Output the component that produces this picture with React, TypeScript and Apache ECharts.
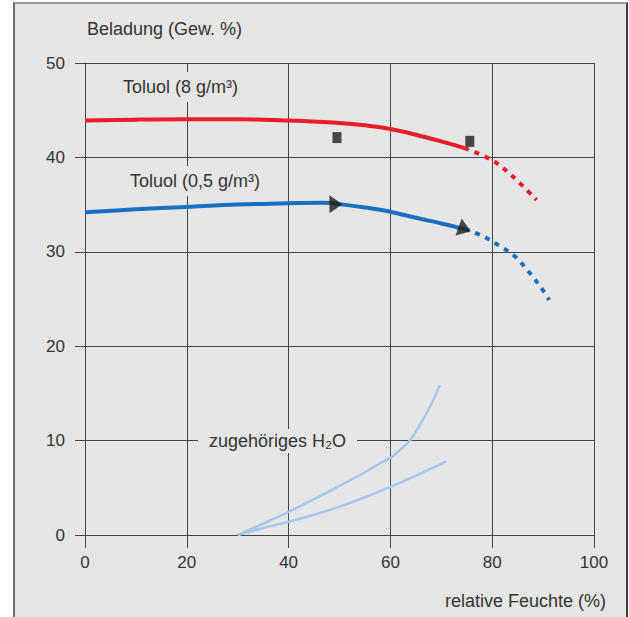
import React, { useEffect, useRef } from "react";
import * as echarts from "echarts";

const xTicks = [0, 20, 40, 60, 80, 100];
const yTicks = [0, 10, 20, 30, 40, 50];

const toluol8Solid: number[][] = [
  [0, 43.9], [10, 44.0], [20, 44.05], [30, 44.05], [40, 43.9], [50, 43.65],
  [55, 43.4], [60, 43.0], [65, 42.4], [70, 41.7], [74.5, 41.0],
];
const toluol8Dotted: number[][] = [
  [74.5, 41.0], [80, 39.7], [84, 38.0], [88.7, 35.5],
];
const toluol05Solid: number[][] = [
  [0, 34.2], [10, 34.5], [20, 34.75], [30, 35.0], [40, 35.15], [47, 35.2],
  [50, 35.05], [55, 34.7], [60, 34.25], [65, 33.6], [70, 33.0], [74.6, 32.4],
];
const toluol05Dotted: number[][] = [
  [74.6, 32.4], [78, 31.7], [81.4, 30.65], [84.5, 29.5], [87, 28.0], [89.5, 26.3], [91.2, 24.9],
];
const h2oUpper: number[][] = [
  [30, 0], [35, 1.2], [40, 2.45], [45, 3.8], [50, 5.2], [55, 6.65], [58, 7.6], [60.2, 8.25],
  [62, 9.05], [63.9, 10.05], [65.5, 11.4], [67.1, 12.9], [68.5, 14.4], [69.7, 15.9],
];
const h2oLower: number[][] = [
  [30, 0], [35, 0.75], [40, 1.4], [45, 2.15], [50, 3.0], [55, 4.0], [60, 5.1], [65.5, 6.4], [71, 7.8],
];
const measuredSquares: number[][] = [
  [49.5, 42.1], [75.6, 41.7],
];
const arrowPoints: number[][] = [
  [49.3, 35.05], [74.6, 32.4],
];
const arrowRotations = [-90, -110];

const labels = {
  yName: "Beladung (Gew. %)",
  xName: "relative Feuchte (%)",
  t8: "Toluol (8 g/m³)",
  t05: "Toluol (0,5 g/m³)",
  h2o: "zugehöriges H₂O",
};

const FONT = "'Liberation Sans', Arial, Helvetica, sans-serif";
const TEXT = "#333333";
const GRID = "#454545";
const RED = "#ec1c2a";
const BLUE = "#1a70bf";
const LIGHTBLUE = "#a6c6ec";
const BG = "#e6e6e6";

export default function App() {
  const ref = useRef<HTMLDivElement>(null);

  useEffect(() => {
    if (!ref.current) return;
    const chart = echarts.init(ref.current, undefined, { renderer: "svg" });
    const lineBase = { type: "line" as const, showSymbol: false, symbol: "none", smooth: 0.35, silent: true };
    chart.setOption({
      animation: false,
      backgroundColor: "transparent",
      grid: { left: 85, top: 63, right: 35, bottom: 82, containLabel: false },
      xAxis: {
        type: "value",
        min: xTicks[0],
        max: xTicks[xTicks.length - 1],
        interval: 20,
        axisLine: { show: true, lineStyle: { color: GRID, width: 1 } },
        axisTick: { show: true, length: 13, lineStyle: { color: GRID, width: 1 } },
        splitLine: { show: true, lineStyle: { color: GRID, width: 1 } },
        axisLabel: { margin: 19, color: TEXT, fontSize: 17, fontFamily: FONT },
      },
      yAxis: {
        type: "value",
        min: yTicks[0],
        max: yTicks[yTicks.length - 1],
        interval: 10,
        name: labels.yName,
        nameLocation: "end",
        nameGap: 25,
        nameTextStyle: { align: "left", color: TEXT, fontSize: 18, fontFamily: FONT, padding: [0, 0, 0, 2] },
        axisLine: { show: true, lineStyle: { color: GRID, width: 1 } },
        axisTick: { show: true, length: 10, lineStyle: { color: GRID, width: 1 } },
        splitLine: { show: true, lineStyle: { color: GRID, width: 1 } },
        axisLabel: { margin: 20, color: TEXT, fontSize: 17, fontFamily: FONT },
      },
      series: [
        { ...lineBase, name: "h2oUpper", data: h2oUpper, smooth: 0.25, lineStyle: { color: LIGHTBLUE, width: 2.5 }, z: 3 },
        { ...lineBase, name: "h2oLower", data: h2oLower, smooth: 0.25, lineStyle: { color: LIGHTBLUE, width: 2.5 }, z: 3 },
        { ...lineBase, name: "t8", data: toluol8Solid, lineStyle: { color: RED, width: 4 }, z: 4 },
        { ...lineBase, name: "t8d", data: toluol8Dotted, lineStyle: { color: RED, width: 4, type: [5, 6], cap: "butt" }, z: 4 },
        { ...lineBase, name: "t05", data: toluol05Solid, lineStyle: { color: BLUE, width: 4 }, z: 4 },
        { ...lineBase, name: "t05d", data: toluol05Dotted, lineStyle: { color: BLUE, width: 4, type: [5, 6], cap: "butt" }, z: 4 },
        {
          type: "scatter",
          name: "squares",
          symbol: "rect",
          symbolSize: [9, 11],
          itemStyle: { color: "#1e1e1e" },
          data: measuredSquares,
          z: 6,
          silent: true,
        },
        {
          type: "scatter",
          name: "arrows",
          symbol: "triangle",
          symbolSize: [18, 13],
          itemStyle: { color: "#1e1e1e" },
          data: arrowPoints.map((p, i) => ({ value: p, symbolRotate: arrowRotations[i] })),
          z: 6,
          silent: true,
        },
      ],
      graphic: [
        {
          type: "text",
          z: 100,
          style: {
            text: labels.t8, x: 121, y: 87, fill: TEXT, fontSize: 18, fontFamily: FONT,
            verticalAlign: "middle", backgroundColor: BG, padding: [6, 2],
          },
        },
        {
          type: "text",
          z: 100,
          style: {
            text: labels.t05, x: 128, y: 181, fill: TEXT, fontSize: 18, fontFamily: FONT,
            verticalAlign: "middle", backgroundColor: BG, padding: [6, 2],
          },
        },
        {
          type: "text",
          z: 100,
          style: {
            text: labels.h2o, x: 198, y: 441, fill: TEXT, fontSize: 18, fontFamily: FONT,
            verticalAlign: "middle", backgroundColor: BG, padding: [3, 11],
          },
        },
        {
          type: "text",
          z: 100,
          style: {
            text: labels.xName, x: 606, y: 601, fill: TEXT, fontSize: 18, fontFamily: FONT,
            align: "right", verticalAlign: "middle",
          },
        },
      ],
    });
    return () => chart.dispose();
  }, []);

  return (
    <div style={{ position: "fixed", left: 0, top: 0, width: 629, height: 617, background: "#ffffff", overflow: "hidden" }}>
      <div
        style={{
          position: "absolute", left: 13, top: 2, width: 615, height: 640, boxSizing: "border-box",
          background: BG, borderLeft: "2px solid #6f6f6f", borderTop: "2px solid #9a9a9a", borderRight: "2px solid #3a3a3a",
        }}
      />
      <div ref={ref} style={{ position: "absolute", left: 0, top: 0, width: 629, height: 617 }} />
    </div>
  );
}
